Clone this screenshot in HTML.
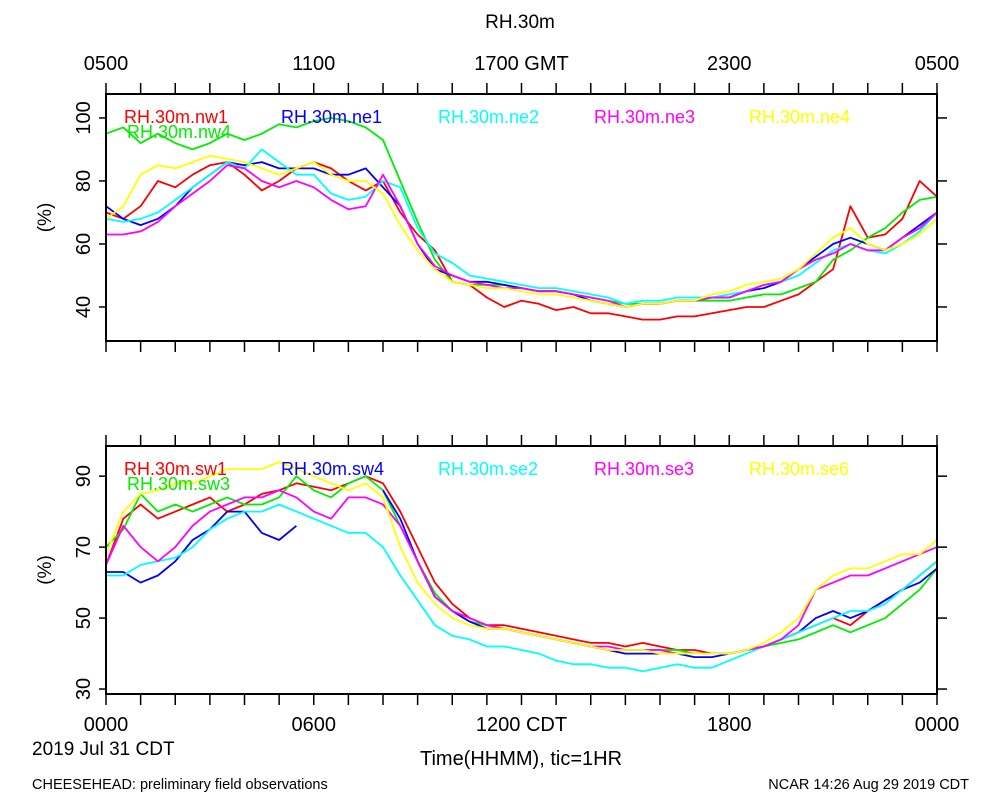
<!DOCTYPE html>
<html><head><meta charset="utf-8"><style>
body{margin:0;background:#fff;}
svg{display:block;font-family:"Liberation Sans",sans-serif;}
</style></head><body>
<svg id="chart" width="1000" height="800" xmlns="http://www.w3.org/2000/svg"></svg>
<script>
const hours = [0,0.5,1,1.5,2,2.5,3,3.5,4,4.5,5,5.5,6,6.5,7,7.5,8,8.5,9,9.5,10,10.5,11,11.5,12,12.5,13,13.5,14,14.5,15,15.5,16,16.5,17,17.5,18,18.5,19,19.5,20,20.5,21,21.5,22,22.5,23,23.5,24];
const topNames = ["RH.30m.nw1","RH.30m.nw4","RH.30m.ne1","RH.30m.ne2","RH.30m.ne3","RH.30m.ne4"];
const nw1 = [70,68,72,80,78,82,85,86,82,77,80,84,86,84,80,77,80,70,63,58,48,47,43,40,42,41,39,40,38,38,37,36,36,37,37,38,39,40,40,42,44,48,52,72,62,63,68,80,75];
const nw4 = [95,97,92,95,92,90,92,95,93,95,98,97,99,100,99,97,93,80,67,55,48,47,47,47,46,45,45,44,43,42,41,41,41,42,42,42,42,43,44,44,46,48,55,58,62,65,70,74,75];
const ne1 = [72,68,66,68,72,78,82,86,85,86,84,84,84,82,82,84,78,72,60,52,50,48,48,47,46,45,45,44,42,41,40,41,41,42,42,43,43,45,46,48,52,56,60,62,60,58,62,66,70];
const ne2 = [68,67,68,70,74,78,82,86,84,90,86,82,82,76,74,75,80,78,65,57,54,50,49,48,47,46,46,45,44,43,41,42,42,43,43,43,44,45,47,48,50,54,58,60,58,57,60,64,70];
const ne3 = [63,63,64,67,72,76,80,85,84,80,78,80,78,74,71,72,82,72,60,53,50,48,47,46,46,45,45,44,43,42,40,41,41,42,42,43,43,45,47,48,52,55,57,60,58,58,62,65,70];
const ne4 = [68,72,82,85,84,86,88,87,86,84,82,84,86,82,80,80,76,66,58,52,48,47,46,46,45,44,44,43,42,41,40,41,41,42,42,44,45,47,48,49,52,57,62,65,60,58,60,63,68];
const botNames = ["RH.30m.sw1","RH.30m.sw3","RH.30m.sw4","RH.30m.se2","RH.30m.se3","RH.30m.se6"];
const sw1 = [65,78,82,78,80,82,84,80,82,85,86,88,87,86,88,90,88,80,70,60,54,50,48,48,47,46,45,44,43,43,42,43,42,41,41,40,40,41,42,44,46,48,50,48,52,55,58,62,66];
const sw3 = [70,75,85,80,82,80,82,84,82,82,84,90,86,84,88,90,86,76,66,57,52,49,48,47,46,45,44,43,42,41,41,41,41,41,40,40,40,41,42,43,44,46,48,46,48,50,54,58,64];
const sw4 = [63,63,60,62,66,72,75,80,80,74,72,76,null,null,null,null,86,78,66,56,52,49,47,47,46,45,44,43,42,41,40,40,40,40,39,39,40,41,42,44,46,50,52,50,52,55,58,60,64];
const se2 = [62,62,65,66,67,70,75,78,80,80,82,80,78,76,74,74,70,62,55,48,45,44,42,42,41,40,38,37,37,36,36,35,36,37,36,36,38,40,42,44,46,48,50,52,52,54,58,62,66];
const se3 = [65,76,70,66,70,76,80,82,84,84,86,84,80,78,84,84,82,76,66,56,52,50,48,47,46,45,44,43,42,42,41,41,41,40,40,40,40,41,42,44,48,58,60,62,62,64,66,68,70];
const se6 = [68,80,85,86,88,88,90,92,92,92,94,92,90,88,86,88,84,70,60,54,50,48,47,47,46,45,44,43,42,41,41,41,40,40,40,40,40,41,43,46,50,58,62,64,64,66,68,68,72];
const topTicks = [40,60,80,100];
const botTicks = [30,50,70,90];
const topXLabels = ["0500","1100","1700 GMT","2300","0500"];
const botXLabels = ["0000","0600","1200 CDT","1800","0000"];
const colors = ["#ff0000","#00ee00","#0000ff","#00ffff","#ff00ff","#ffff00"];

const svg = document.getElementById('chart');
const NS = "http://www.w3.org/2000/svg";
function el(tag, attrs, parent){const e=document.createElementNS(NS,tag);for(const k in attrs)e.setAttribute(k,attrs[k]);(parent||svg).appendChild(e);return e;}
const X0=106,X1=937;
const xs = h => X0 + (X1-X0)*h/24;

function panel(top,bottom,ymin,ymax,yticks,series,names,xlabels,xlabelsTop,pname){
  const ys = v => bottom - (v-ymin)/(ymax-ymin)*(bottom-top);
  const g = el('g',{});
  
  
  series.forEach((s,i)=>{
    let d="",pen=false;
    s.forEach((v,j)=>{
      if(v===null){pen=false;return;}
      d += (pen?"L":"M")+xs(hours[j]).toFixed(1)+","+ys(v).toFixed(1);
      pen=true;
    });
    const p = el('path',{d:d,fill:"none",stroke:colors[i],"stroke-width":1.8,"stroke-linejoin":"round"},g);
    
    
  });
  const fr = el('rect',{x:X0,y:top,width:X1-X0,height:bottom-top,fill:"none",stroke:"#000","stroke-width":2},g);
  
  
  for(let h=0;h<=24;h++){
    el('line',{x1:xs(h),x2:xs(h),y1:bottom,y2:bottom+11,stroke:"#000","stroke-width":1.5},g);
    el('line',{x1:xs(h),x2:xs(h),y1:top,y2:top-11,stroke:"#000","stroke-width":1.5},g);
  }
  yticks.forEach(v=>{
    const y=ys(v);
    el('line',{x1:X0-7,x2:X0,y1:y,y2:y,stroke:"#000","stroke-width":1.5},g);
    el('line',{x1:X1,x2:X1+10,y1:y,y2:y,stroke:"#000","stroke-width":1.5},g);
    const t=el('text',{x:0,y:0,transform:`translate(${X0-16},${y}) rotate(-90)`,"text-anchor":"middle","font-size":20},g);
    t.textContent=v;
    
    
  });
  const yl=el('text',{x:0,y:0,transform:`translate(51,${(top+bottom)/2}) rotate(-90)`,"text-anchor":"middle","font-size":19},g);
  yl.textContent="(%)";
  
  
  if(xlabels){xlabels.forEach((l,i)=>{const t=el('text',{x:xs(i*6),y:bottom+37,"text-anchor":"middle","font-size":20},g);t.textContent=l;
    
    });}
  if(xlabelsTop){xlabelsTop.forEach((l,i)=>{const t=el('text',{x:xs(i*6),y:top-24,"text-anchor":"middle","font-size":20},g);t.textContent=l;
    
    });}
  const lx=[124,281,438,594,749];
  const order=[0,2,3,4,5];
  order.forEach((si,k)=>{const t=el('text',{x:lx[k],y:top+29,"font-size":18,fill:colors[si]},g);t.textContent=names[si];
    
    });
  const t2=el('text',{x:127,y:top+44,"font-size":18,fill:colors[1]},g);t2.textContent=names[1];
  
  
}
panel(94,341,29.2,107.6,topTicks,[nw1,nw4,ne1,ne2,ne3,ne4],topNames,null,topXLabels,'top-panel');
panel(446,694,28.6,98.5,botTicks,[sw1,sw3,sw4,se2,se3,se6],botNames,botXLabels,null,'bottom-panel');

function txt(x,y,s,size,anchor,name){const t=el('text',{x:x,y:y,"font-size":size,"text-anchor":anchor});t.textContent=s;
  
  }
txt(520,28,"RH.30m",19,"middle","chart-title");
txt(32,755,"2019 Jul 31 CDT",19,"start","date-label");
txt(521,765,"Time(HHMM), tic=1HR",20,"middle","x-axis-title");
txt(32,789,"CHEESEHEAD: preliminary field observations",14.5,"start","footer-left");
txt(969,789,"NCAR 14:26 Aug 29 2019 CDT",14.5,"end","footer-right");
</script>
</body></html>
